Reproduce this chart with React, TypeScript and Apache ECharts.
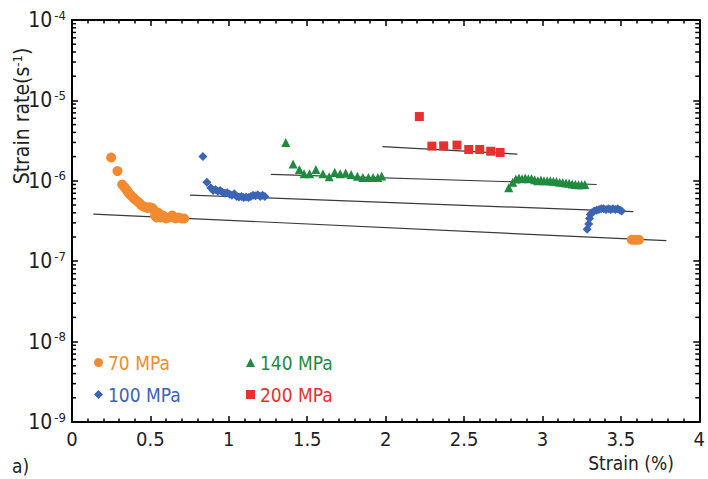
import React, { useEffect, useRef } from "react";
import * as echarts from "echarts";

const FONT = "'Liberation Sans Narrow', 'DejaVu Sans Condensed', 'Liberation Sans', sans-serif";

const ORANGE = "#F28B30";
const BLUE = "#3B64B5";
const GREEN = "#1F8B3F";
const RED = "#E8302F";

// 70 MPa (circles)
const s70X = [0.25, 0.29, 0.32, 0.335, 0.35, 0.36, 0.375, 0.39, 0.40, 0.415, 0.43, 0.44, 0.455, 0.47, 0.48, 0.495, 0.51, 0.52, 0.53, 0.54, 0.55, 0.565, 0.58, 0.60, 0.62, 0.64, 0.66, 0.68, 0.70, 0.715, 3.57, 3.585, 3.60, 3.615];
const s70Y = [1.95e-6, 1.32e-6, 9.0e-7, 8.3e-7, 7.6e-7, 7.1e-7, 6.6e-7, 6.2e-7, 5.9e-7, 5.6e-7, 5.3e-7, 5.0e-7, 4.8e-7, 4.7e-7, 4.6e-7, 4.7e-7, 4.6e-7, 4.4e-7, 3.7e-7, 3.5e-7, 4.0e-7, 3.5e-7, 3.7e-7, 3.4e-7, 3.5e-7, 3.7e-7, 3.4e-7, 3.5e-7, 3.4e-7, 3.4e-7, 1.85e-7, 1.85e-7, 1.85e-7, 1.85e-7];

// 100 MPa (diamonds)
const s100X = [0.835, 0.86, 0.885, 0.90, 0.915, 0.93, 0.945, 0.96, 0.975, 0.99, 1.005, 1.02, 1.035, 1.05, 1.065, 1.08, 1.095, 1.11, 1.125, 1.14, 1.155, 1.17, 1.185, 1.20, 1.215, 1.23, 3.285, 3.295, 3.30, 3.305, 3.315, 3.33, 3.345, 3.36, 3.375, 3.39, 3.405, 3.42, 3.435, 3.45, 3.465, 3.48, 3.495, 3.505];
const s100Y = [2.0e-6, 9.6e-7, 8.2e-7, 7.6e-7, 7.8e-7, 7.4e-7, 7.6e-7, 7.2e-7, 7.0e-7, 7.1e-7, 6.8e-7, 6.6e-7, 6.9e-7, 6.4e-7, 6.3e-7, 6.4e-7, 6.2e-7, 6.3e-7, 6.2e-7, 6.4e-7, 6.6e-7, 6.5e-7, 6.7e-7, 6.4e-7, 6.6e-7, 6.4e-7, 2.5e-7, 2.9e-7, 3.4e-7, 3.8e-7, 4.0e-7, 4.2e-7, 4.3e-7, 4.4e-7, 4.5e-7, 4.5e-7, 4.4e-7, 4.5e-7, 4.4e-7, 4.5e-7, 4.4e-7, 4.5e-7, 4.3e-7, 4.2e-7];

// 140 MPa (triangles)
const s140X = [1.363, 1.41, 1.45, 1.48, 1.515, 1.555, 1.60, 1.64, 1.675, 1.71, 1.745, 1.78, 1.82, 1.855, 1.89, 1.92, 1.95, 1.975, 2.785, 2.81, 2.83, 2.85, 2.87, 2.89, 2.91, 2.93, 2.95, 2.97, 2.99, 3.01, 3.03, 3.05, 3.07, 3.09, 3.11, 3.13, 3.15, 3.17, 3.19, 3.21, 3.23, 3.25, 3.27];
const s140Y = [3.0e-6, 1.62e-6, 1.38e-6, 1.22e-6, 1.22e-6, 1.38e-6, 1.22e-6, 1.12e-6, 1.28e-6, 1.22e-6, 1.25e-6, 1.2e-6, 1.14e-6, 1.1e-6, 1.1e-6, 1.1e-6, 1.1e-6, 1.15e-6, 8.2e-7, 9.6e-7, 1.05e-6, 1.08e-6, 1.06e-6, 1.08e-6, 1.06e-6, 1.07e-6, 1.03e-6, 1.0e-6, 1.02e-6, 1.0e-6, 1.0e-6, 1.0e-6, 9.9e-7, 9.8e-7, 9.6e-7, 9.5e-7, 9.4e-7, 9.3e-7, 9.1e-7, 9.0e-7, 8.9e-7, 8.9e-7, 9.0e-7];

// 200 MPa (squares)
const s200X = [2.215, 2.295, 2.37, 2.455, 2.53, 2.60, 2.67, 2.73];
const s200Y = [6.3e-6, 2.7e-6, 2.72e-6, 2.78e-6, 2.45e-6, 2.45e-6, 2.33e-6, 2.25e-6];

// fitted lines (start, end)
const fit70 = [[0.136, 3.86e-7], [3.79, 1.8e-7]];
const fit100 = [[0.752, 6.65e-7], [3.58, 4.13e-7]];
const fit140 = [[1.268, 1.205e-6], [3.346, 9.0e-7]];
const fit200 = [[1.98, 2.66e-6], [2.84, 2.15e-6]];

const mantissas = [2, 3, 4, 5, 6, 7, 8, 9];
const decades = [-9, -8, -7, -6, -5];
const yMinorTicks: number[] = [];
decades.forEach((d) => mantissas.forEach((m) => yMinorTicks.push(Number(`${m}e${d}`))));

const zip = (xs: number[], ys: number[]) => xs.map((x, i) => [x, ys[i]]);

export default function App() {
  const ref = useRef<HTMLDivElement>(null);
  useEffect(() => {
    if (!ref.current) return;
    const chart = echarts.init(ref.current, null, { renderer: "svg" });
    const tickCommon = {
      axisLine: { show: true, onZero: false, lineStyle: { color: "#000", width: 2 } },
      splitLine: { show: false },
    };
    const xBase = {
      type: "value",
      min: 0,
      max: 4,
      interval: 0.5,
      ...tickCommon,
      axisTick: { show: true, inside: true, length: 6, lineStyle: { color: "#000", width: 1.5 } },
      minorTick: { show: true, splitNumber: 5, length: 3.5, lineStyle: { color: "#000", width: 1.5 } },
    };
    const yBase = {
      type: "log",
      logBase: 10,
      min: 1e-9,
      max: 1e-4,
      splitNumber: 5,
      ...tickCommon,
      axisTick: { show: true, inside: true, length: 6, lineStyle: { color: "#000", width: 1.5 } },
    };
    const scatter = (name: string, data: number[][], symbol: string, size: number, color: string) => ({
      name,
      type: "scatter",
      data,
      symbol,
      symbolSize: size,
      itemStyle: { color, opacity: 1 },
      z: 3,
    });
    const fit = (data: number[][]) => ({
      type: "line",
      data,
      symbol: "none",
      lineStyle: { color: "#3a3a3a", width: 1.2 },
      z: 2,
      silent: true,
    });
    chart.setOption({
      animation: false,
      grid: { left: 72, right: 8, top: 20, bottom: 57 },
      xAxis: [
        {
          ...xBase,
          position: "bottom",
          axisLabel: { show: true, margin: 7, fontSize: 20, color: "#222", fontFamily: FONT },
        },
        { ...xBase, position: "top", axisLabel: { show: false } },
      ],
      yAxis: [
        {
          ...yBase,
          position: "left",
          axisLabel: {
            show: true,
            margin: 6,
            formatter: (v: number) => `{b|10}{s|${Math.round(Math.log10(v))}}`,
            rich: {
              b: { fontSize: 21, fontFamily: FONT, color: "#222" },
              s: { fontSize: 13, fontFamily: FONT, color: "#222", padding: [0, 0, 10, 2] },
            },
          },
        },
        { ...yBase, position: "right", axisLabel: { show: false } },
      ],
      legend: [
        {
          left: 94,
          top: 353,
          orient: "vertical",
          itemGap: 13,
          itemWidth: 9,
          itemHeight: 9,
          padding: 0,
          textStyle: { fontSize: 19, fontFamily: FONT },
          data: [
            { name: "70 MPa", icon: "circle", textStyle: { color: ORANGE } },
            { name: "100 MPa", icon: "diamond", textStyle: { color: BLUE } },
          ],
        },
        {
          left: 246,
          top: 353,
          orient: "vertical",
          itemGap: 13,
          itemWidth: 9,
          itemHeight: 9,
          padding: 0,
          textStyle: { fontSize: 19, fontFamily: FONT },
          data: [
            { name: "140 MPa", icon: "triangle", textStyle: { color: GREEN } },
            { name: "200 MPa", icon: "rect", textStyle: { color: RED } },
          ],
        },
      ],
      graphic: [
        {
          type: "text",
          x: 22,
          y: 116,
          rotation: Math.PI / 2,
          style: {
            text: "{a|Strain rate(s}{s|-1}{a|)}",
            align: "center",
            verticalAlign: "middle",
            rich: {
              a: { fontSize: 21, fontFamily: FONT, fill: "#222" },
              s: { fontSize: 13, fontFamily: FONT, fill: "#222", padding: [0, 0, 10, 0] },
            },
          },
        },
        {
          type: "text",
          x: 631,
          y: 463,
          style: { text: "Strain (%)", align: "center", verticalAlign: "middle", fontSize: 19, fontFamily: FONT, fill: "#222" },
        },
        {
          type: "text",
          x: 12,
          y: 466,
          style: { text: "a)", align: "left", verticalAlign: "middle", fontSize: 19, fontFamily: FONT, fill: "#222" },
        },
      ],
      series: [
        fit(fit70),
        fit(fit100),
        fit(fit140),
        fit(fit200),
        scatter("70 MPa", zip(s70X, s70Y), "circle", 10, ORANGE),
        scatter("100 MPa", zip(s100X, s100Y), "diamond", 9, BLUE),
        scatter("140 MPa", zip(s140X, s140Y), "triangle", 9, GREEN),
        scatter("200 MPa", zip(s200X, s200Y), "rect", 9, RED),
        {
          type: "custom",
          silent: true,
          clip: false,
          xAxisIndex: 0,
          yAxisIndex: 0,
          data: yMinorTicks.map((v) => [0, v]),
          renderItem: (params: any, api: any) => {
            const cs = params.coordSys;
            const y = api.coord([0, api.value(1)])[1];
            return {
              type: "group",
              children: [
                { type: "line", shape: { x1: cs.x, y1: y, x2: cs.x + 4, y2: y }, style: { stroke: "#000", lineWidth: 1.5 } },
                { type: "line", shape: { x1: cs.x + cs.width, y1: y, x2: cs.x + cs.width - 4, y2: y }, style: { stroke: "#000", lineWidth: 1.5 } },
              ],
            };
          },
        },
      ],
    });
    return () => chart.dispose();
  }, []);
  return <div ref={ref} style={{ width: 708, height: 479, position: "absolute", left: 0, top: 0 }} />;
}
